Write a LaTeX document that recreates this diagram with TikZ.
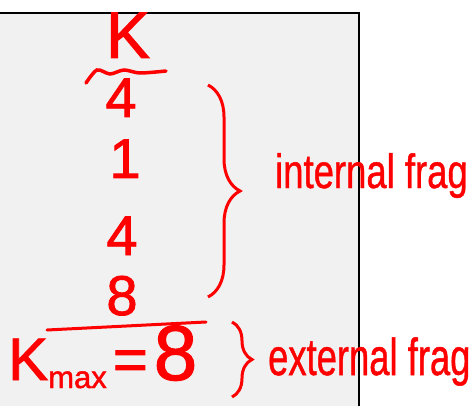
\documentclass[tikz,border=0pt]{standalone}
\usepackage{fontspec}
\setmainfont{Liberation Sans}
\usetikzlibrary{decorations.pathreplacing}
\definecolor{kalem}{HTML}{FF0000}
\definecolor{kutuGri}{HTML}{F1F1F1}
\tikzset{yazi/.style={kalem,inner sep=0}}

\begin{document}
\begin{tikzpicture}[x=1pt,y=-1pt]
\useasboundingbox (0,0) rectangle (476,406);
\fill[kutuGri] (0,13) rectangle (359,406);
\draw[line width=2.5pt] (0,13)--(359,13)--(359,406);
% sütun başlığı ve dalga
\node[yazi,anchor=base,font=\fontsize{66}{66}\selectfont\addfontfeatures{FakeBold=1.5}] (k) at (128,58) {K};
\draw[kalem,line width=3.5pt,line cap=round] plot[smooth] coordinates {(86,83) (97,70) (110,74) (124,70) (140,73) (166,71)};
% boyutlar
\foreach \ad/\x/\y/\s in {dort1/121/117/4,bir/125/178/1,dort2/122/255/4,sekiz/122/315/8}
  \node[yazi,anchor=base,font=\fontsize{56}{56}\selectfont\addfontfeatures{FakeBold=1.5}] (\ad) at (\x,\y) {\s};
\draw[kalem,line width=3pt,line cap=round] (47,330)--(206,322);
\node[yazi,anchor=base west,font=\fontsize{60}{60}\selectfont\addfontfeatures{FakeBold=1.5}] (kmax) at (8,380)
  {K\raisebox{-8pt}{\fontsize{31}{31}\selectfont max}\hspace{6pt}=\hspace{6pt}{\fontsize{78}{78}\selectfont 8}};
% parantezler
\coordinate (icUst) at (208,85);
\coordinate (icAlt) at (208,297);
\coordinate (disUst) at (232,322);
\coordinate (disAlt) at (232,397);
\draw[kalem,line width=3pt,decorate,decoration={brace,amplitude=32pt}] (icUst)--(icAlt);
\draw[kalem,line width=3pt,decorate,decoration={brace,amplitude=20pt}] (disUst)--(disAlt);
\node[yazi,anchor=base west,xscale=0.76,font=\fontsize{48}{48}\selectfont\addfontfeatures{FakeBold=1}] (ic) at (275,188) {internal frag};
\node[yazi,anchor=base west,xscale=0.70,font=\fontsize{52}{52}\selectfont\addfontfeatures{FakeBold=1}] (dis) at (268,375) {external frag};
\end{tikzpicture}
\end{document}
